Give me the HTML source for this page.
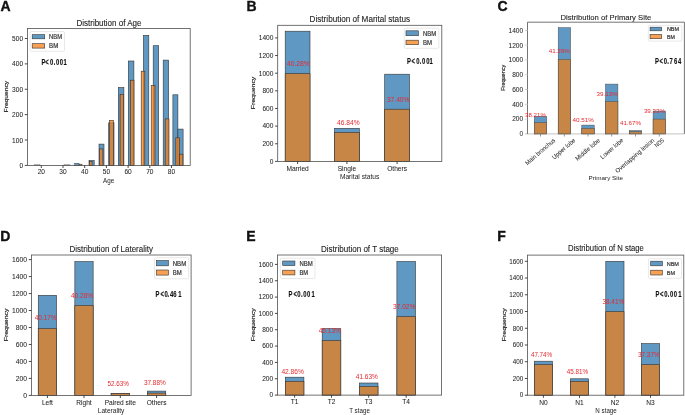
<!DOCTYPE html>
<html><head><meta charset="utf-8"><style>
html,body{margin:0;padding:0;background:#fff;width:685px;height:415px;overflow:hidden}
svg{display:block;will-change:transform}
text{font-family:"Liberation Sans",sans-serif}
</style></head><body>
<svg width="685" height="415" viewBox="0 0 685 415">
<rect width="685" height="415" fill="#fff"/>
<text x="0.50" y="11.10" font-size="14" text-anchor="start" fill="#111" stroke="#111" stroke-width="0.35" font-weight="bold" >A</text>
<text x="76.40" y="25.50" font-size="8.6" text-anchor="start" fill="#222" stroke="#222" stroke-width="0.1" textLength="65.10" lengthAdjust="spacingAndGlyphs" >Distribution of Age</text>
<rect x="34.30" y="164.30" width="5.70" height="1.10" fill="#bbb" stroke="#999" stroke-width="0.5"/>
<rect x="64.00" y="164.30" width="5.90" height="1.10" fill="#bbb" stroke="#999" stroke-width="0.5"/>
<rect x="74.20" y="163.70" width="4.90" height="1.70" fill="rgb(95,152,195)" stroke="#333" stroke-width="0.6"/>
<rect x="89.00" y="160.50" width="5.20" height="4.90" fill="rgb(95,152,195)" stroke="#333" stroke-width="0.6"/>
<rect x="99.00" y="144.10" width="5.00" height="21.30" fill="rgb(95,152,195)" stroke="#333" stroke-width="0.6"/>
<rect x="108.70" y="122.80" width="5.30" height="42.60" fill="rgb(95,152,195)" stroke="#333" stroke-width="0.6"/>
<rect x="118.30" y="87.50" width="5.60" height="77.90" fill="rgb(95,152,195)" stroke="#333" stroke-width="0.6"/>
<rect x="128.30" y="61.00" width="5.60" height="104.40" fill="rgb(95,152,195)" stroke="#333" stroke-width="0.6"/>
<rect x="143.40" y="35.40" width="5.40" height="130.00" fill="rgb(95,152,195)" stroke="#333" stroke-width="0.6"/>
<rect x="153.20" y="45.70" width="5.50" height="119.70" fill="rgb(95,152,195)" stroke="#333" stroke-width="0.6"/>
<rect x="163.20" y="60.10" width="5.40" height="105.30" fill="rgb(95,152,195)" stroke="#333" stroke-width="0.6"/>
<rect x="172.90" y="94.80" width="5.00" height="70.60" fill="rgb(95,152,195)" stroke="#333" stroke-width="0.6"/>
<rect x="177.90" y="129.10" width="5.20" height="36.30" fill="rgb(95,152,195)" stroke="#333" stroke-width="0.6"/>
<rect x="79.00" y="164.20" width="2.90" height="1.20" fill="rgb(246,128,27)" fill-opacity="0.75" stroke="#333" stroke-width="0.6"/>
<rect x="89.30" y="161.50" width="2.80" height="3.90" fill="rgb(246,128,27)" fill-opacity="0.75" stroke="#333" stroke-width="0.6"/>
<rect x="99.60" y="148.90" width="3.30" height="16.50" fill="rgb(246,128,27)" fill-opacity="0.75" stroke="#333" stroke-width="0.6"/>
<rect x="109.60" y="120.40" width="3.90" height="45.00" fill="rgb(246,128,27)" fill-opacity="0.75" stroke="#333" stroke-width="0.6"/>
<rect x="120.10" y="94.50" width="3.40" height="70.90" fill="rgb(246,128,27)" fill-opacity="0.75" stroke="#333" stroke-width="0.6"/>
<rect x="130.40" y="80.20" width="3.60" height="85.20" fill="rgb(246,128,27)" fill-opacity="0.75" stroke="#333" stroke-width="0.6"/>
<rect x="141.20" y="71.20" width="3.60" height="94.20" fill="rgb(246,128,27)" fill-opacity="0.75" stroke="#333" stroke-width="0.6"/>
<rect x="151.20" y="85.30" width="3.80" height="80.10" fill="rgb(246,128,27)" fill-opacity="0.75" stroke="#333" stroke-width="0.6"/>
<rect x="165.20" y="118.90" width="3.80" height="46.50" fill="rgb(246,128,27)" fill-opacity="0.75" stroke="#333" stroke-width="0.6"/>
<rect x="175.80" y="137.80" width="3.70" height="27.60" fill="rgb(246,128,27)" fill-opacity="0.75" stroke="#333" stroke-width="0.6"/>
<rect x="179.50" y="154.20" width="3.40" height="11.20" fill="rgb(246,128,27)" fill-opacity="0.75" stroke="#333" stroke-width="0.6"/>
<rect x="27.40" y="28.50" width="162.80" height="136.90" fill="none" stroke="#505050" stroke-width="0.8"/>
<line x1="24.80" y1="165.40" x2="27.40" y2="165.40" stroke="#333" stroke-width="0.9"/>
<text x="23.10" y="167.94" font-size="7.1" text-anchor="end" fill="#222" stroke="#222" stroke-width="0.04" textLength="3.67" lengthAdjust="spacingAndGlyphs" >0</text>
<line x1="24.80" y1="140.02" x2="27.40" y2="140.02" stroke="#333" stroke-width="0.9"/>
<text x="23.10" y="142.56" font-size="7.1" text-anchor="end" fill="#222" stroke="#222" stroke-width="0.04" textLength="11.01" lengthAdjust="spacingAndGlyphs" >100</text>
<line x1="24.80" y1="114.64" x2="27.40" y2="114.64" stroke="#333" stroke-width="0.9"/>
<text x="23.10" y="117.18" font-size="7.1" text-anchor="end" fill="#222" stroke="#222" stroke-width="0.04" textLength="11.01" lengthAdjust="spacingAndGlyphs" >200</text>
<line x1="24.80" y1="89.26" x2="27.40" y2="89.26" stroke="#333" stroke-width="0.9"/>
<text x="23.10" y="91.80" font-size="7.1" text-anchor="end" fill="#222" stroke="#222" stroke-width="0.04" textLength="11.01" lengthAdjust="spacingAndGlyphs" >300</text>
<line x1="24.80" y1="63.88" x2="27.40" y2="63.88" stroke="#333" stroke-width="0.9"/>
<text x="23.10" y="66.42" font-size="7.1" text-anchor="end" fill="#222" stroke="#222" stroke-width="0.04" textLength="11.01" lengthAdjust="spacingAndGlyphs" >400</text>
<line x1="24.80" y1="38.50" x2="27.40" y2="38.50" stroke="#333" stroke-width="0.9"/>
<text x="23.10" y="41.04" font-size="7.1" text-anchor="end" fill="#222" stroke="#222" stroke-width="0.04" textLength="11.01" lengthAdjust="spacingAndGlyphs" >500</text>
<line x1="41.30" y1="165.40" x2="41.30" y2="168.00" stroke="#333" stroke-width="0.9"/>
<text x="41.30" y="174.08" font-size="7.1" text-anchor="middle" fill="#222" stroke="#222" stroke-width="0.04" textLength="7.34" lengthAdjust="spacingAndGlyphs" >20</text>
<line x1="63.00" y1="165.40" x2="63.00" y2="168.00" stroke="#333" stroke-width="0.9"/>
<text x="63.00" y="174.08" font-size="7.1" text-anchor="middle" fill="#222" stroke="#222" stroke-width="0.04" textLength="7.34" lengthAdjust="spacingAndGlyphs" >30</text>
<line x1="84.70" y1="165.40" x2="84.70" y2="168.00" stroke="#333" stroke-width="0.9"/>
<text x="84.70" y="174.08" font-size="7.1" text-anchor="middle" fill="#222" stroke="#222" stroke-width="0.04" textLength="7.34" lengthAdjust="spacingAndGlyphs" >40</text>
<line x1="106.40" y1="165.40" x2="106.40" y2="168.00" stroke="#333" stroke-width="0.9"/>
<text x="106.40" y="174.08" font-size="7.1" text-anchor="middle" fill="#222" stroke="#222" stroke-width="0.04" textLength="7.34" lengthAdjust="spacingAndGlyphs" >50</text>
<line x1="128.10" y1="165.40" x2="128.10" y2="168.00" stroke="#333" stroke-width="0.9"/>
<text x="128.10" y="174.08" font-size="7.1" text-anchor="middle" fill="#222" stroke="#222" stroke-width="0.04" textLength="7.34" lengthAdjust="spacingAndGlyphs" >60</text>
<line x1="149.80" y1="165.40" x2="149.80" y2="168.00" stroke="#333" stroke-width="0.9"/>
<text x="149.80" y="174.08" font-size="7.1" text-anchor="middle" fill="#222" stroke="#222" stroke-width="0.04" textLength="7.34" lengthAdjust="spacingAndGlyphs" >70</text>
<line x1="171.50" y1="165.40" x2="171.50" y2="168.00" stroke="#333" stroke-width="0.9"/>
<text x="171.50" y="174.08" font-size="7.1" text-anchor="middle" fill="#222" stroke="#222" stroke-width="0.04" textLength="7.34" lengthAdjust="spacingAndGlyphs" >80</text>
<text x="103.00" y="182.60" font-size="6.6" text-anchor="start" fill="#222" textLength="11.20" lengthAdjust="spacingAndGlyphs" >Age</text>
<text x="7.70" y="112.40" font-size="5.4" text-anchor="start" fill="#222" stroke="#222" stroke-width="0.16" textLength="31.60" lengthAdjust="spacingAndGlyphs" transform="rotate(-90 7.70 112.40)" >Frequency</text>
<rect x="30.10" y="31.60" width="34.40" height="19.70" rx="1.2" fill="white" fill-opacity="0.8" stroke="#d8d8d8" stroke-width="0.6"/>
<rect x="32.20" y="34.70" width="12.50" height="4.10" fill="rgb(95,152,195)" stroke="#333" stroke-width="0.6"/>
<rect x="32.20" y="43.70" width="12.50" height="4.40" fill="rgb(248,160,84)" stroke="#333" stroke-width="0.6"/>
<text x="49.10" y="39.11" font-size="6.6" text-anchor="start" fill="#333" stroke="#333" stroke-width="0.2" textLength="13.00" lengthAdjust="spacingAndGlyphs" >NBM</text>
<text x="49.10" y="48.26" font-size="6.6" text-anchor="start" fill="#333" stroke="#333" stroke-width="0.2" textLength="9.10" lengthAdjust="spacingAndGlyphs" >BM</text>
<text x="59.20 64.72 71.38 76.70 80.09 85.38 90.87" y="64.60" font-size="8.4" font-weight="bold" fill="#111" stroke="#111" stroke-width="0.15" transform="scale(0.7 1)">P&lt;0.001</text>
<text x="246.60" y="11.30" font-size="14" text-anchor="start" fill="#111" stroke="#111" stroke-width="0.35" font-weight="bold" >B</text>
<text x="309.60" y="21.70" font-size="8.6" text-anchor="start" fill="#222" stroke="#222" stroke-width="0.1" textLength="100.40" lengthAdjust="spacingAndGlyphs" >Distribution of Marital status</text>
<rect x="285.20" y="31.20" width="24.80" height="130.20" fill="rgb(95,152,195)" stroke="#333" stroke-width="0.6"/>
<rect x="285.20" y="73.70" width="24.80" height="87.70" fill="rgb(200,134,70)" stroke="#333" stroke-width="0.6"/>
<rect x="334.50" y="128.30" width="24.80" height="33.10" fill="rgb(95,152,195)" stroke="#333" stroke-width="0.6"/>
<rect x="334.50" y="132.40" width="24.80" height="29.00" fill="rgb(200,134,70)" stroke="#333" stroke-width="0.6"/>
<rect x="384.70" y="74.20" width="24.80" height="87.20" fill="rgb(95,152,195)" stroke="#333" stroke-width="0.6"/>
<rect x="384.70" y="109.20" width="24.80" height="52.20" fill="rgb(200,134,70)" stroke="#333" stroke-width="0.6"/>
<rect x="277.70" y="25.30" width="164.10" height="136.10" fill="none" stroke="#505050" stroke-width="0.8"/>
<line x1="275.10" y1="161.40" x2="277.70" y2="161.40" stroke="#333" stroke-width="0.9"/>
<text x="273.40" y="163.76" font-size="6.6" text-anchor="end" fill="#222" stroke="#222" stroke-width="0.04" >0</text>
<line x1="275.10" y1="143.76" x2="277.70" y2="143.76" stroke="#333" stroke-width="0.9"/>
<text x="273.40" y="146.12" font-size="6.6" text-anchor="end" fill="#222" stroke="#222" stroke-width="0.04" >200</text>
<line x1="275.10" y1="126.11" x2="277.70" y2="126.11" stroke="#333" stroke-width="0.9"/>
<text x="273.40" y="128.48" font-size="6.6" text-anchor="end" fill="#222" stroke="#222" stroke-width="0.04" >400</text>
<line x1="275.10" y1="108.47" x2="277.70" y2="108.47" stroke="#333" stroke-width="0.9"/>
<text x="273.40" y="110.83" font-size="6.6" text-anchor="end" fill="#222" stroke="#222" stroke-width="0.04" >600</text>
<line x1="275.10" y1="90.83" x2="277.70" y2="90.83" stroke="#333" stroke-width="0.9"/>
<text x="273.40" y="93.19" font-size="6.6" text-anchor="end" fill="#222" stroke="#222" stroke-width="0.04" >800</text>
<line x1="275.10" y1="73.19" x2="277.70" y2="73.19" stroke="#333" stroke-width="0.9"/>
<text x="273.40" y="75.55" font-size="6.6" text-anchor="end" fill="#222" stroke="#222" stroke-width="0.04" >1000</text>
<line x1="275.10" y1="55.54" x2="277.70" y2="55.54" stroke="#333" stroke-width="0.9"/>
<text x="273.40" y="57.91" font-size="6.6" text-anchor="end" fill="#222" stroke="#222" stroke-width="0.04" >1200</text>
<line x1="275.10" y1="37.90" x2="277.70" y2="37.90" stroke="#333" stroke-width="0.9"/>
<text x="273.40" y="40.26" font-size="6.6" text-anchor="end" fill="#222" stroke="#222" stroke-width="0.04" >1400</text>
<line x1="297.60" y1="161.40" x2="297.60" y2="164.00" stroke="#333" stroke-width="0.9"/>
<text x="297.60" y="170.73" font-size="6.6" text-anchor="middle" fill="#222" stroke="#222" stroke-width="0.04" >Married</text>
<line x1="346.90" y1="161.40" x2="346.90" y2="164.00" stroke="#333" stroke-width="0.9"/>
<text x="346.90" y="170.73" font-size="6.6" text-anchor="middle" fill="#222" stroke="#222" stroke-width="0.04" >Single</text>
<line x1="397.10" y1="161.40" x2="397.10" y2="164.00" stroke="#333" stroke-width="0.9"/>
<text x="397.10" y="170.73" font-size="6.6" text-anchor="middle" fill="#222" stroke="#222" stroke-width="0.04" >Others</text>
<text x="339.90" y="179.00" font-size="6.6" text-anchor="start" fill="#222" textLength="39.50" lengthAdjust="spacingAndGlyphs" >Marital status</text>
<text x="254.80" y="109.30" font-size="5.4" text-anchor="start" fill="#222" stroke="#222" stroke-width="0.16" textLength="32.60" lengthAdjust="spacingAndGlyphs" transform="rotate(-90 254.80 109.30)" >Frequency</text>
<rect x="404.20" y="28.20" width="34.60" height="20.10" rx="1.2" fill="white" fill-opacity="0.8" stroke="#d8d8d8" stroke-width="0.6"/>
<rect x="406.00" y="30.80" width="12.30" height="4.90" fill="rgb(95,152,195)" stroke="#333" stroke-width="0.6"/>
<rect x="406.00" y="40.20" width="12.30" height="4.50" fill="rgb(248,160,84)" stroke="#333" stroke-width="0.6"/>
<text x="422.90" y="35.61" font-size="6.6" text-anchor="start" fill="#333" stroke="#333" stroke-width="0.2" textLength="13.20" lengthAdjust="spacingAndGlyphs" >NBM</text>
<text x="422.90" y="44.81" font-size="6.6" text-anchor="start" fill="#333" stroke="#333" stroke-width="0.2" textLength="9.00" lengthAdjust="spacingAndGlyphs" >BM</text>
<text x="581.41 587.87 594.52 599.55 602.95 608.95 613.73" y="63.60" font-size="8.4" font-weight="bold" fill="#111" stroke="#111" stroke-width="0.15" transform="scale(0.7 1)">P&lt;0.001</text>
<text x="287.00" y="66.13" font-size="6.8" text-anchor="start" fill="#e8282e" textLength="22.80" lengthAdjust="spacingAndGlyphs" >40.28%</text>
<text x="337.00" y="124.73" font-size="6.8" text-anchor="start" fill="#e8282e" textLength="22.60" lengthAdjust="spacingAndGlyphs" >46.84%</text>
<text x="386.90" y="102.23" font-size="6.8" text-anchor="start" fill="#e8282e" textLength="22.60" lengthAdjust="spacingAndGlyphs" >37.40%</text>
<text x="497.50" y="11.30" font-size="14" text-anchor="start" fill="#111" stroke="#111" stroke-width="0.35" font-weight="bold" >C</text>
<text x="560.50" y="19.90" font-size="7.568" text-anchor="start" fill="#222" stroke="#222" stroke-width="0.1" textLength="90.80" lengthAdjust="spacingAndGlyphs" >Distribution of Primary Site</text>
<line x1="525.00" y1="133.90" x2="684.40" y2="133.90" stroke="#cfcfcf" stroke-width="1.2"/>
<rect x="534.30" y="116.30" width="12.40" height="17.60" fill="rgb(95,152,195)" stroke="#4a4a4a" stroke-width="0.5"/>
<rect x="534.30" y="122.70" width="12.40" height="11.20" fill="rgb(200,134,70)" stroke="#4a4a4a" stroke-width="0.5"/>
<rect x="558.20" y="27.70" width="12.40" height="106.20" fill="rgb(95,152,195)" stroke="#4a4a4a" stroke-width="0.5"/>
<rect x="558.20" y="59.50" width="12.40" height="74.40" fill="rgb(200,134,70)" stroke="#4a4a4a" stroke-width="0.5"/>
<rect x="581.80" y="125.10" width="12.40" height="8.80" fill="rgb(95,152,195)" stroke="#4a4a4a" stroke-width="0.5"/>
<rect x="581.80" y="128.50" width="12.40" height="5.40" fill="rgb(200,134,70)" stroke="#4a4a4a" stroke-width="0.5"/>
<rect x="605.50" y="84.10" width="12.40" height="49.80" fill="rgb(95,152,195)" stroke="#4a4a4a" stroke-width="0.5"/>
<rect x="605.50" y="101.70" width="12.40" height="32.20" fill="rgb(200,134,70)" stroke="#4a4a4a" stroke-width="0.5"/>
<rect x="629.30" y="130.60" width="12.40" height="3.30" fill="rgb(95,152,195)" stroke="#4a4a4a" stroke-width="0.5"/>
<rect x="629.30" y="131.80" width="12.40" height="2.10" fill="rgb(200,134,70)" stroke="#4a4a4a" stroke-width="0.5"/>
<rect x="653.10" y="111.10" width="12.40" height="22.80" fill="rgb(95,152,195)" stroke="#4a4a4a" stroke-width="0.5"/>
<rect x="653.10" y="119.10" width="12.40" height="14.80" fill="rgb(200,134,70)" stroke="#4a4a4a" stroke-width="0.5"/>
<path d="M527.50 133.90V22.20H684.40V133.90" fill="none" stroke="#505050" stroke-width="0.8"/>
<line x1="524.90" y1="119.11" x2="527.50" y2="119.11" stroke="#c8c8c8" stroke-width="0.9"/>
<text x="523.20" y="121.48" font-size="6.6" text-anchor="end" fill="#222" stroke="#222" stroke-width="0.04" >200</text>
<line x1="524.90" y1="104.33" x2="527.50" y2="104.33" stroke="#c8c8c8" stroke-width="0.9"/>
<text x="523.20" y="106.69" font-size="6.6" text-anchor="end" fill="#222" stroke="#222" stroke-width="0.04" >400</text>
<line x1="524.90" y1="89.54" x2="527.50" y2="89.54" stroke="#c8c8c8" stroke-width="0.9"/>
<text x="523.20" y="91.91" font-size="6.6" text-anchor="end" fill="#222" stroke="#222" stroke-width="0.04" >600</text>
<line x1="524.90" y1="74.76" x2="527.50" y2="74.76" stroke="#c8c8c8" stroke-width="0.9"/>
<text x="523.20" y="77.12" font-size="6.6" text-anchor="end" fill="#222" stroke="#222" stroke-width="0.04" >800</text>
<line x1="524.90" y1="59.97" x2="527.50" y2="59.97" stroke="#c8c8c8" stroke-width="0.9"/>
<text x="523.20" y="62.33" font-size="6.6" text-anchor="end" fill="#222" stroke="#222" stroke-width="0.04" >1000</text>
<line x1="524.90" y1="45.19" x2="527.50" y2="45.19" stroke="#c8c8c8" stroke-width="0.9"/>
<text x="523.20" y="47.55" font-size="6.6" text-anchor="end" fill="#222" stroke="#222" stroke-width="0.04" >1200</text>
<line x1="524.90" y1="30.40" x2="527.50" y2="30.40" stroke="#c8c8c8" stroke-width="0.9"/>
<text x="523.20" y="32.76" font-size="6.6" text-anchor="end" fill="#222" stroke="#222" stroke-width="0.04" >1400</text>
<text x="523.20" y="136.26" font-size="6.6" text-anchor="end" fill="#222" >0</text>
<line x1="540.50" y1="133.90" x2="540.50" y2="136.50" stroke="#8a8a8a" stroke-width="0.9"/>
<line x1="564.40" y1="133.90" x2="564.40" y2="136.50" stroke="#8a8a8a" stroke-width="0.9"/>
<line x1="588.00" y1="133.90" x2="588.00" y2="136.50" stroke="#8a8a8a" stroke-width="0.9"/>
<line x1="611.70" y1="133.90" x2="611.70" y2="136.50" stroke="#8a8a8a" stroke-width="0.9"/>
<line x1="635.50" y1="133.90" x2="635.50" y2="136.50" stroke="#8a8a8a" stroke-width="0.9"/>
<line x1="659.30" y1="133.90" x2="659.30" y2="136.50" stroke="#8a8a8a" stroke-width="0.9"/>
<text x="555.70" y="141.00" font-size="6.2" text-anchor="end" fill="#222" stroke="#222" stroke-width="0.04" textLength="37.30" lengthAdjust="spacingAndGlyphs" transform="rotate(-41 555.70 141.00)">Main bronchus</text>
<text x="575.80" y="141.00" font-size="6.2" text-anchor="end" fill="#222" stroke="#222" stroke-width="0.04" textLength="28.60" lengthAdjust="spacingAndGlyphs" transform="rotate(-41 575.80 141.00)">Upper lobe</text>
<text x="600.40" y="141.00" font-size="6.2" text-anchor="end" fill="#222" stroke="#222" stroke-width="0.04" textLength="30.30" lengthAdjust="spacingAndGlyphs" transform="rotate(-41 600.40 141.00)">Middle lobe</text>
<text x="623.70" y="141.00" font-size="6.2" text-anchor="end" fill="#222" stroke="#222" stroke-width="0.04" textLength="28.00" lengthAdjust="spacingAndGlyphs" transform="rotate(-41 623.70 141.00)">Lower lobe</text>
<text x="654.80" y="141.00" font-size="6.2" text-anchor="end" fill="#222" stroke="#222" stroke-width="0.04" textLength="49.30" lengthAdjust="spacingAndGlyphs" transform="rotate(-41 654.80 141.00)">Overlapping lesion</text>
<text x="664.60" y="141.00" font-size="6.2" text-anchor="end" fill="#222" stroke="#222" stroke-width="0.04" textLength="10.30" lengthAdjust="spacingAndGlyphs" transform="rotate(-41 664.60 141.00)">NOS</text>
<text x="588.60" y="180.40" font-size="6.2" text-anchor="start" fill="#222" textLength="34.40" lengthAdjust="spacingAndGlyphs" >Primary Site</text>
<text x="505.00" y="90.80" font-size="5.2" text-anchor="start" fill="#222" stroke="#222" stroke-width="0.16" textLength="26.00" lengthAdjust="spacingAndGlyphs" transform="rotate(-90 505.00 90.80)" >Frequency</text>
<rect x="648.30" y="25.40" width="33.50" height="15.70" rx="1.2" fill="white" fill-opacity="0.8" stroke="#d8d8d8" stroke-width="0.6"/>
<rect x="650.10" y="27.20" width="11.60" height="3.60" fill="rgb(95,152,195)" stroke="#333" stroke-width="0.6"/>
<rect x="650.10" y="34.50" width="11.60" height="4.20" fill="rgb(248,160,84)" stroke="#333" stroke-width="0.6"/>
<text x="666.90" y="30.93" font-size="5.4" text-anchor="start" fill="#333" stroke="#333" stroke-width="0.2" textLength="12.10" lengthAdjust="spacingAndGlyphs" >NBM</text>
<text x="666.90" y="38.53" font-size="5.4" text-anchor="start" fill="#333" stroke="#333" stroke-width="0.2" textLength="7.90" lengthAdjust="spacingAndGlyphs" >BM</text>
<text x="935.55 942.15 948.38 953.27 956.29 962.95 968.55" y="63.60" font-size="8.4" font-weight="bold" fill="#111" stroke="#111" stroke-width="0.15" transform="scale(0.7 1)">P&lt;0.764</text>
<text x="525.10" y="117.08" font-size="5.8" text-anchor="start" fill="#e8282e" textLength="20.80" lengthAdjust="spacingAndGlyphs" >38.21%</text>
<text x="548.70" y="52.88" font-size="5.8" text-anchor="start" fill="#e8282e" textLength="21.20" lengthAdjust="spacingAndGlyphs" >41.29%</text>
<text x="572.60" y="121.88" font-size="5.8" text-anchor="start" fill="#e8282e" textLength="21.30" lengthAdjust="spacingAndGlyphs" >40.51%</text>
<text x="596.50" y="95.78" font-size="5.8" text-anchor="start" fill="#e8282e" textLength="21.20" lengthAdjust="spacingAndGlyphs" >39.13%</text>
<text x="619.90" y="125.48" font-size="5.8" text-anchor="start" fill="#e8282e" textLength="21.30" lengthAdjust="spacingAndGlyphs" >41.67%</text>
<text x="643.90" y="113.08" font-size="5.8" text-anchor="start" fill="#e8282e" textLength="21.00" lengthAdjust="spacingAndGlyphs" >39.33%</text>
<text x="0.30" y="241.10" font-size="14" text-anchor="start" fill="#111" stroke="#111" stroke-width="0.35" font-weight="bold" >D</text>
<text x="69.50" y="251.50" font-size="8.6" text-anchor="start" fill="#222" stroke="#222" stroke-width="0.1" textLength="83.50" lengthAdjust="spacingAndGlyphs" >Distribution of Laterality</text>
<rect x="38.25" y="295.30" width="18.30" height="100.10" fill="rgb(95,152,195)" stroke="#333" stroke-width="0.6"/>
<rect x="38.25" y="328.50" width="18.30" height="66.90" fill="rgb(200,134,70)" stroke="#333" stroke-width="0.6"/>
<rect x="74.85" y="261.60" width="18.30" height="133.80" fill="rgb(95,152,195)" stroke="#333" stroke-width="0.6"/>
<rect x="74.85" y="305.50" width="18.30" height="89.90" fill="rgb(200,134,70)" stroke="#333" stroke-width="0.6"/>
<rect x="111.15" y="393.50" width="18.30" height="1.90" fill="rgb(95,152,195)" stroke="#333" stroke-width="0.6"/>
<rect x="111.15" y="393.60" width="18.30" height="1.80" fill="rgb(200,134,70)" stroke="#333" stroke-width="0.6"/>
<rect x="147.45" y="391.10" width="18.30" height="4.30" fill="rgb(95,152,195)" stroke="#333" stroke-width="0.6"/>
<rect x="147.45" y="393.10" width="18.30" height="2.30" fill="rgb(200,134,70)" stroke="#333" stroke-width="0.6"/>
<rect x="31.40" y="255.00" width="159.70" height="140.40" fill="none" stroke="#505050" stroke-width="0.8"/>
<line x1="28.80" y1="395.40" x2="31.40" y2="395.40" stroke="#333" stroke-width="0.9"/>
<text x="27.10" y="397.83" font-size="6.8" text-anchor="end" fill="#222" stroke="#222" stroke-width="0.04" >0</text>
<line x1="28.80" y1="378.42" x2="31.40" y2="378.42" stroke="#333" stroke-width="0.9"/>
<text x="27.10" y="380.86" font-size="6.8" text-anchor="end" fill="#222" stroke="#222" stroke-width="0.04" >200</text>
<line x1="28.80" y1="361.45" x2="31.40" y2="361.45" stroke="#333" stroke-width="0.9"/>
<text x="27.10" y="363.88" font-size="6.8" text-anchor="end" fill="#222" stroke="#222" stroke-width="0.04" >400</text>
<line x1="28.80" y1="344.47" x2="31.40" y2="344.47" stroke="#333" stroke-width="0.9"/>
<text x="27.10" y="346.91" font-size="6.8" text-anchor="end" fill="#222" stroke="#222" stroke-width="0.04" >600</text>
<line x1="28.80" y1="327.50" x2="31.40" y2="327.50" stroke="#333" stroke-width="0.9"/>
<text x="27.10" y="329.93" font-size="6.8" text-anchor="end" fill="#222" stroke="#222" stroke-width="0.04" >800</text>
<line x1="28.80" y1="310.52" x2="31.40" y2="310.52" stroke="#333" stroke-width="0.9"/>
<text x="27.10" y="312.96" font-size="6.8" text-anchor="end" fill="#222" stroke="#222" stroke-width="0.04" >1000</text>
<line x1="28.80" y1="293.55" x2="31.40" y2="293.55" stroke="#333" stroke-width="0.9"/>
<text x="27.10" y="295.98" font-size="6.8" text-anchor="end" fill="#222" stroke="#222" stroke-width="0.04" >1200</text>
<line x1="28.80" y1="276.57" x2="31.40" y2="276.57" stroke="#333" stroke-width="0.9"/>
<text x="27.10" y="279.01" font-size="6.8" text-anchor="end" fill="#222" stroke="#222" stroke-width="0.04" >1400</text>
<line x1="28.80" y1="259.60" x2="31.40" y2="259.60" stroke="#333" stroke-width="0.9"/>
<text x="27.10" y="262.03" font-size="6.8" text-anchor="end" fill="#222" stroke="#222" stroke-width="0.04" >1600</text>
<line x1="47.40" y1="395.40" x2="47.40" y2="398.00" stroke="#333" stroke-width="0.9"/>
<text x="47.40" y="404.73" font-size="6.6" text-anchor="middle" fill="#222" stroke="#222" stroke-width="0.04" >Left</text>
<line x1="84.00" y1="395.40" x2="84.00" y2="398.00" stroke="#333" stroke-width="0.9"/>
<text x="84.00" y="404.73" font-size="6.6" text-anchor="middle" fill="#222" stroke="#222" stroke-width="0.04" >Right</text>
<line x1="120.30" y1="395.40" x2="120.30" y2="398.00" stroke="#333" stroke-width="0.9"/>
<text x="120.30" y="404.73" font-size="6.6" text-anchor="middle" fill="#222" stroke="#222" stroke-width="0.04" >Paired site</text>
<line x1="156.60" y1="395.40" x2="156.60" y2="398.00" stroke="#333" stroke-width="0.9"/>
<text x="156.60" y="404.73" font-size="6.6" text-anchor="middle" fill="#222" stroke="#222" stroke-width="0.04" >Others</text>
<text x="97.80" y="412.60" font-size="6.6" text-anchor="start" fill="#222" textLength="26.60" lengthAdjust="spacingAndGlyphs" >Laterality</text>
<text x="8.50" y="341.30" font-size="5.4" text-anchor="start" fill="#222" stroke="#222" stroke-width="0.16" textLength="32.80" lengthAdjust="spacingAndGlyphs" transform="rotate(-90 8.50 341.30)" >Frequency</text>
<rect x="154.50" y="257.70" width="34.20" height="21.10" rx="1.2" fill="white" fill-opacity="0.8" stroke="#d8d8d8" stroke-width="0.6"/>
<rect x="156.50" y="260.60" width="11.90" height="5.20" fill="rgb(95,152,195)" stroke="#333" stroke-width="0.6"/>
<rect x="156.50" y="270.00" width="11.90" height="5.10" fill="rgb(248,160,84)" stroke="#333" stroke-width="0.6"/>
<text x="172.70" y="265.56" font-size="6.6" text-anchor="start" fill="#333" stroke="#333" stroke-width="0.2" textLength="13.50" lengthAdjust="spacingAndGlyphs" >NBM</text>
<text x="172.70" y="274.91" font-size="6.6" text-anchor="start" fill="#333" stroke="#333" stroke-width="0.2" textLength="9.00" lengthAdjust="spacingAndGlyphs" >BM</text>
<text x="222.13 229.15 235.09 239.27 242.69 247.66 254.59" y="297.00" font-size="8.4" font-weight="bold" fill="#111" stroke="#111" stroke-width="0.15" transform="scale(0.7 1)">P&lt;0.461</text>
<text x="34.80" y="319.93" font-size="6.8" text-anchor="start" fill="#e8282e" textLength="21.60" lengthAdjust="spacingAndGlyphs" >40.17%</text>
<text x="71.10" y="297.73" font-size="6.8" text-anchor="start" fill="#e8282e" textLength="21.90" lengthAdjust="spacingAndGlyphs" >40.26%</text>
<text x="107.40" y="386.13" font-size="6.8" text-anchor="start" fill="#e8282e" textLength="21.50" lengthAdjust="spacingAndGlyphs" >52.63%</text>
<text x="143.90" y="385.33" font-size="6.8" text-anchor="start" fill="#e8282e" textLength="21.90" lengthAdjust="spacingAndGlyphs" >37.88%</text>
<text x="246.20" y="241.10" font-size="14" text-anchor="start" fill="#111" stroke="#111" stroke-width="0.35" font-weight="bold" >E</text>
<text x="321.00" y="251.50" font-size="8.6" text-anchor="start" fill="#222" stroke="#222" stroke-width="0.1" textLength="77.80" lengthAdjust="spacingAndGlyphs" >Distribution of T stage</text>
<rect x="285.30" y="377.20" width="18.60" height="17.90" fill="rgb(95,152,195)" stroke="#333" stroke-width="0.6"/>
<rect x="285.30" y="381.30" width="18.60" height="13.80" fill="rgb(200,134,70)" stroke="#333" stroke-width="0.6"/>
<rect x="322.20" y="328.70" width="18.60" height="66.40" fill="rgb(95,152,195)" stroke="#333" stroke-width="0.6"/>
<rect x="322.20" y="340.60" width="18.60" height="54.50" fill="rgb(200,134,70)" stroke="#333" stroke-width="0.6"/>
<rect x="359.40" y="383.00" width="18.60" height="12.10" fill="rgb(95,152,195)" stroke="#333" stroke-width="0.6"/>
<rect x="359.40" y="386.40" width="18.60" height="8.70" fill="rgb(200,134,70)" stroke="#333" stroke-width="0.6"/>
<rect x="396.90" y="261.50" width="18.60" height="133.60" fill="rgb(95,152,195)" stroke="#333" stroke-width="0.6"/>
<rect x="396.90" y="316.70" width="18.60" height="78.40" fill="rgb(200,134,70)" stroke="#333" stroke-width="0.6"/>
<rect x="277.50" y="255.00" width="164.10" height="140.10" fill="none" stroke="#505050" stroke-width="0.8"/>
<line x1="274.90" y1="395.10" x2="277.50" y2="395.10" stroke="#333" stroke-width="0.9"/>
<text x="273.20" y="397.46" font-size="6.6" text-anchor="end" fill="#222" stroke="#222" stroke-width="0.04" >0</text>
<line x1="274.90" y1="378.76" x2="277.50" y2="378.76" stroke="#333" stroke-width="0.9"/>
<text x="273.20" y="381.13" font-size="6.6" text-anchor="end" fill="#222" stroke="#222" stroke-width="0.04" >200</text>
<line x1="274.90" y1="362.43" x2="277.50" y2="362.43" stroke="#333" stroke-width="0.9"/>
<text x="273.20" y="364.79" font-size="6.6" text-anchor="end" fill="#222" stroke="#222" stroke-width="0.04" >400</text>
<line x1="274.90" y1="346.09" x2="277.50" y2="346.09" stroke="#333" stroke-width="0.9"/>
<text x="273.20" y="348.45" font-size="6.6" text-anchor="end" fill="#222" stroke="#222" stroke-width="0.04" >600</text>
<line x1="274.90" y1="329.75" x2="277.50" y2="329.75" stroke="#333" stroke-width="0.9"/>
<text x="273.20" y="332.11" font-size="6.6" text-anchor="end" fill="#222" stroke="#222" stroke-width="0.04" >800</text>
<line x1="274.90" y1="313.41" x2="277.50" y2="313.41" stroke="#333" stroke-width="0.9"/>
<text x="273.20" y="315.78" font-size="6.6" text-anchor="end" fill="#222" stroke="#222" stroke-width="0.04" >1000</text>
<line x1="274.90" y1="297.08" x2="277.50" y2="297.08" stroke="#333" stroke-width="0.9"/>
<text x="273.20" y="299.44" font-size="6.6" text-anchor="end" fill="#222" stroke="#222" stroke-width="0.04" >1200</text>
<line x1="274.90" y1="280.74" x2="277.50" y2="280.74" stroke="#333" stroke-width="0.9"/>
<text x="273.20" y="283.10" font-size="6.6" text-anchor="end" fill="#222" stroke="#222" stroke-width="0.04" >1400</text>
<line x1="274.90" y1="264.40" x2="277.50" y2="264.40" stroke="#333" stroke-width="0.9"/>
<text x="273.20" y="266.76" font-size="6.6" text-anchor="end" fill="#222" stroke="#222" stroke-width="0.04" >1600</text>
<line x1="294.60" y1="395.10" x2="294.60" y2="397.70" stroke="#333" stroke-width="0.9"/>
<text x="294.60" y="404.43" font-size="6.6" text-anchor="middle" fill="#222" stroke="#222" stroke-width="0.04" >T1</text>
<line x1="331.50" y1="395.10" x2="331.50" y2="397.70" stroke="#333" stroke-width="0.9"/>
<text x="331.50" y="404.43" font-size="6.6" text-anchor="middle" fill="#222" stroke="#222" stroke-width="0.04" >T2</text>
<line x1="368.70" y1="395.10" x2="368.70" y2="397.70" stroke="#333" stroke-width="0.9"/>
<text x="368.70" y="404.43" font-size="6.6" text-anchor="middle" fill="#222" stroke="#222" stroke-width="0.04" >T3</text>
<line x1="406.20" y1="395.10" x2="406.20" y2="397.70" stroke="#333" stroke-width="0.9"/>
<text x="406.20" y="404.43" font-size="6.6" text-anchor="middle" fill="#222" stroke="#222" stroke-width="0.04" >T4</text>
<text x="349.20" y="412.60" font-size="6.6" text-anchor="start" fill="#222" textLength="20.70" lengthAdjust="spacingAndGlyphs" >T stage</text>
<text x="254.80" y="341.30" font-size="5.4" text-anchor="start" fill="#222" stroke="#222" stroke-width="0.16" textLength="33.00" lengthAdjust="spacingAndGlyphs" transform="rotate(-90 254.80 341.30)" >Frequency</text>
<rect x="280.30" y="258.20" width="34.70" height="20.30" rx="1.2" fill="white" fill-opacity="0.8" stroke="#d8d8d8" stroke-width="0.6"/>
<rect x="282.70" y="261.00" width="12.20" height="4.60" fill="rgb(95,152,195)" stroke="#333" stroke-width="0.6"/>
<rect x="282.70" y="270.20" width="12.20" height="4.70" fill="rgb(248,160,84)" stroke="#333" stroke-width="0.6"/>
<text x="299.50" y="265.66" font-size="6.6" text-anchor="start" fill="#333" stroke="#333" stroke-width="0.2" textLength="13.30" lengthAdjust="spacingAndGlyphs" >NBM</text>
<text x="299.50" y="274.91" font-size="6.6" text-anchor="start" fill="#333" stroke="#333" stroke-width="0.2" textLength="8.60" lengthAdjust="spacingAndGlyphs" >BM</text>
<text x="412.13 419.44 424.66 429.98 433.09 438.66 444.87" y="297.00" font-size="8.4" font-weight="bold" fill="#111" stroke="#111" stroke-width="0.15" transform="scale(0.7 1)">P&lt;0.001</text>
<text x="281.40" y="373.93" font-size="6.8" text-anchor="start" fill="#e8282e" textLength="22.50" lengthAdjust="spacingAndGlyphs" >42.86%</text>
<text x="318.70" y="332.73" font-size="6.8" text-anchor="start" fill="#e8282e" textLength="22.20" lengthAdjust="spacingAndGlyphs" >45.13%</text>
<text x="355.80" y="378.83" font-size="6.8" text-anchor="start" fill="#e8282e" textLength="22.10" lengthAdjust="spacingAndGlyphs" >41.63%</text>
<text x="393.00" y="308.93" font-size="6.8" text-anchor="start" fill="#e8282e" textLength="22.30" lengthAdjust="spacingAndGlyphs" >37.02%</text>
<text x="497.20" y="241.10" font-size="14" text-anchor="start" fill="#111" stroke="#111" stroke-width="0.35" font-weight="bold" >F</text>
<text x="568.00" y="251.30" font-size="8.6" text-anchor="start" fill="#222" stroke="#222" stroke-width="0.1" textLength="75.90" lengthAdjust="spacingAndGlyphs" >Distribution of N stage</text>
<rect x="534.30" y="361.20" width="18.20" height="34.00" fill="rgb(95,152,195)" stroke="#333" stroke-width="0.6"/>
<rect x="534.30" y="364.60" width="18.20" height="30.60" fill="rgb(200,134,70)" stroke="#333" stroke-width="0.6"/>
<rect x="570.40" y="378.80" width="18.20" height="16.40" fill="rgb(95,152,195)" stroke="#333" stroke-width="0.6"/>
<rect x="570.40" y="381.30" width="18.20" height="13.90" fill="rgb(200,134,70)" stroke="#333" stroke-width="0.6"/>
<rect x="605.80" y="261.30" width="18.20" height="133.90" fill="rgb(95,152,195)" stroke="#333" stroke-width="0.6"/>
<rect x="605.80" y="311.70" width="18.20" height="83.50" fill="rgb(200,134,70)" stroke="#333" stroke-width="0.6"/>
<rect x="641.40" y="343.60" width="18.20" height="51.60" fill="rgb(95,152,195)" stroke="#333" stroke-width="0.6"/>
<rect x="641.40" y="364.70" width="18.20" height="30.50" fill="rgb(200,134,70)" stroke="#333" stroke-width="0.6"/>
<rect x="527.50" y="255.10" width="156.30" height="140.10" fill="none" stroke="#505050" stroke-width="0.8"/>
<line x1="524.90" y1="395.20" x2="527.50" y2="395.20" stroke="#333" stroke-width="0.9"/>
<text x="523.20" y="397.46" font-size="6.3" text-anchor="end" fill="#222" stroke="#222" stroke-width="0.04" >0</text>
<line x1="524.90" y1="378.46" x2="527.50" y2="378.46" stroke="#333" stroke-width="0.9"/>
<text x="523.20" y="380.72" font-size="6.3" text-anchor="end" fill="#222" stroke="#222" stroke-width="0.04" >200</text>
<line x1="524.90" y1="361.72" x2="527.50" y2="361.72" stroke="#333" stroke-width="0.9"/>
<text x="523.20" y="363.98" font-size="6.3" text-anchor="end" fill="#222" stroke="#222" stroke-width="0.04" >400</text>
<line x1="524.90" y1="344.99" x2="527.50" y2="344.99" stroke="#333" stroke-width="0.9"/>
<text x="523.20" y="347.24" font-size="6.3" text-anchor="end" fill="#222" stroke="#222" stroke-width="0.04" >600</text>
<line x1="524.90" y1="328.25" x2="527.50" y2="328.25" stroke="#333" stroke-width="0.9"/>
<text x="523.20" y="330.51" font-size="6.3" text-anchor="end" fill="#222" stroke="#222" stroke-width="0.04" >800</text>
<line x1="524.90" y1="311.51" x2="527.50" y2="311.51" stroke="#333" stroke-width="0.9"/>
<text x="523.20" y="313.77" font-size="6.3" text-anchor="end" fill="#222" stroke="#222" stroke-width="0.04" >1000</text>
<line x1="524.90" y1="294.77" x2="527.50" y2="294.77" stroke="#333" stroke-width="0.9"/>
<text x="523.20" y="297.03" font-size="6.3" text-anchor="end" fill="#222" stroke="#222" stroke-width="0.04" >1200</text>
<line x1="524.90" y1="278.04" x2="527.50" y2="278.04" stroke="#333" stroke-width="0.9"/>
<text x="523.20" y="280.29" font-size="6.3" text-anchor="end" fill="#222" stroke="#222" stroke-width="0.04" >1400</text>
<line x1="524.90" y1="261.30" x2="527.50" y2="261.30" stroke="#333" stroke-width="0.9"/>
<text x="523.20" y="263.56" font-size="6.3" text-anchor="end" fill="#222" stroke="#222" stroke-width="0.04" >1600</text>
<line x1="543.40" y1="395.20" x2="543.40" y2="397.80" stroke="#333" stroke-width="0.9"/>
<text x="543.40" y="404.53" font-size="6.6" text-anchor="middle" fill="#222" stroke="#222" stroke-width="0.04" >N0</text>
<line x1="579.50" y1="395.20" x2="579.50" y2="397.80" stroke="#333" stroke-width="0.9"/>
<text x="579.50" y="404.53" font-size="6.6" text-anchor="middle" fill="#222" stroke="#222" stroke-width="0.04" >N1</text>
<line x1="614.90" y1="395.20" x2="614.90" y2="397.80" stroke="#333" stroke-width="0.9"/>
<text x="614.90" y="404.53" font-size="6.6" text-anchor="middle" fill="#222" stroke="#222" stroke-width="0.04" >N2</text>
<line x1="650.50" y1="395.20" x2="650.50" y2="397.80" stroke="#333" stroke-width="0.9"/>
<text x="650.50" y="404.53" font-size="6.6" text-anchor="middle" fill="#222" stroke="#222" stroke-width="0.04" >N3</text>
<text x="595.30" y="412.60" font-size="6.6" text-anchor="start" fill="#222" textLength="21.50" lengthAdjust="spacingAndGlyphs" >N stage</text>
<text x="505.90" y="341.30" font-size="5.4" text-anchor="start" fill="#222" stroke="#222" stroke-width="0.16" textLength="33.00" lengthAdjust="spacingAndGlyphs" transform="rotate(-90 505.90 341.30)" >Frequency</text>
<rect x="648.40" y="258.70" width="33.10" height="19.60" rx="1.2" fill="white" fill-opacity="0.8" stroke="#d8d8d8" stroke-width="0.6"/>
<rect x="650.70" y="261.20" width="11.60" height="4.60" fill="rgb(95,152,195)" stroke="#333" stroke-width="0.6"/>
<rect x="650.70" y="270.20" width="11.60" height="4.80" fill="rgb(248,160,84)" stroke="#333" stroke-width="0.6"/>
<text x="666.70" y="265.65" font-size="6.0" text-anchor="start" fill="#333" stroke="#333" stroke-width="0.2" textLength="12.30" lengthAdjust="spacingAndGlyphs" >NBM</text>
<text x="666.70" y="274.75" font-size="6.0" text-anchor="start" fill="#333" stroke="#333" stroke-width="0.2" textLength="8.30" lengthAdjust="spacingAndGlyphs" >BM</text>
<text x="936.27 943.01 949.09 953.84 957.24 962.52 968.87" y="297.00" font-size="8.4" font-weight="bold" fill="#111" stroke="#111" stroke-width="0.15" transform="scale(0.7 1)">P&lt;0.001</text>
<text x="530.90" y="356.73" font-size="6.8" text-anchor="start" fill="#e8282e" textLength="21.30" lengthAdjust="spacingAndGlyphs" >47.74%</text>
<text x="566.80" y="373.93" font-size="6.8" text-anchor="start" fill="#e8282e" textLength="21.30" lengthAdjust="spacingAndGlyphs" >45.81%</text>
<text x="602.50" y="304.03" font-size="6.8" text-anchor="start" fill="#e8282e" textLength="21.60" lengthAdjust="spacingAndGlyphs" >38.41%</text>
<text x="638.00" y="356.73" font-size="6.8" text-anchor="start" fill="#e8282e" textLength="21.60" lengthAdjust="spacingAndGlyphs" >37.37%</text>
</svg></body></html>
